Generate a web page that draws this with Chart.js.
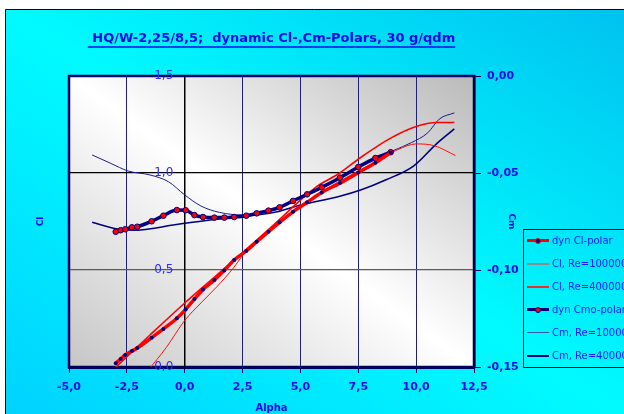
<!DOCTYPE html>
<html>
<head>
<meta charset="utf-8">
<script src="https://cdn.jsdelivr.net/npm/chart.js@4.4.0/dist/chart.umd.min.js"></script>
<style>
  html, body { margin: 0; padding: 0; background: #fff; overflow: hidden; }
  #wrap { position: relative; width: 624px; height: 414px; overflow: hidden; }
  #legend {
    position: absolute; left: 523px; top: 229px; width: 140px; height: 137px;
    border: 1px solid #00003c; font-family: "DejaVu Sans", sans-serif; font-size: 10px; color: #1a1aff;
  }
  .row { position: absolute; left: 0; width: 140px; height: 16px; }
  .row span { position: absolute; }
  .row .txt { left: 28px; top: 0; line-height: 16px; white-space: nowrap; }
</style>
</head>
<body>
<div id="wrap">
  <canvas id="polars" width="624" height="414"></canvas>
  <div id="legend"></div>
</div>
<script>
// Messpunkte der dynamischen Polaren (gleiche Alpha-Werte fuer Cl und Cm)
const alphaDyn = [-2.98, -2.77, -2.57, -2.28, -2.05, -1.43, -0.92, -0.34, 0.04, 0.42, 0.79, 1.28, 1.71,
  2.14, 2.66, 3.11, 3.62, 4.10, 4.68, 5.29, 5.92, 6.71, 7.50, 8.24, 8.90];
const clDyn = [0.019, 0.041, 0.062, 0.082, 0.098, 0.151, 0.196, 0.251, 0.297, 0.350, 0.400, 0.448, 0.498,
  0.552, 0.598, 0.646, 0.697, 0.746, 0.800, 0.849, 0.900, 0.948, 1.002, 1.053, 1.105];
const cmDyn = [-0.0803, -0.0795, -0.0790, -0.0780, -0.0777, -0.0749, -0.0720, -0.0691, -0.0692, -0.0717,
  -0.0727, -0.0730, -0.0730, -0.0727, -0.0720, -0.0708, -0.0694, -0.0677, -0.0644, -0.0610, -0.0574,
  -0.0524, -0.0469, -0.0423, -0.0393];

// Cl-Polaren Re=100000 / Re=400000
const alphaCl100 = [-1.6, -0.8, 0, 0.7, 1.4, 2.1, 2.6, 3.5, 4.5, 5.5, 6.5, 7.5, 8.5, 9.2, 10.0, 10.8, 11.7];
const cl100 = [-0.02, 0.10, 0.24, 0.33, 0.415, 0.51, 0.59, 0.69, 0.785, 0.87, 0.945, 1.01, 1.075, 1.12, 1.15, 1.14, 1.09];
const alphaCl400 = [-3.1, -1.5, 0, 1.25, 2.5, 4.0, 5.0, 5.7, 6.7, 7.6, 8.9, 10.0, 10.9, 11.65];
const cl400 = [-0.015, 0.165, 0.33, 0.46, 0.59, 0.75, 0.86, 0.93, 1.0, 1.08, 1.18, 1.24, 1.26, 1.26];

// Cm-Polaren Re=100000 / Re=400000
const alphaCm100 = [-4.0, -3.2, -2.44, -1.5, -0.7, 0, 0.7, 1.5, 2.5, 3.5, 5.0, 6.5, 8.0, 9.0, 9.8, 10.5, 11.0, 11.65];
const cm100 = [-0.0407, -0.045, -0.049, -0.051, -0.0545, -0.0613, -0.067, -0.0703, -0.0716, -0.0698, -0.0627,
  -0.0537, -0.0437, -0.0385, -0.0343, -0.0293, -0.0222, -0.019];
const alphaCm400 = [-4.0, -2.9, -2.0, -1.4, -0.5, 0, 1.5, 2.5, 4.0, 5.0, 6.7, 7.6, 8.7, 9.9, 10.9, 11.65];
const cm400 = [-0.0754, -0.0789, -0.0795, -0.0786, -0.0768, -0.0759, -0.0737, -0.0725, -0.0700, -0.0665,
  -0.0620, -0.0588, -0.0535, -0.0463, -0.0347, -0.0272];

const pts = (xs, ys) => xs.map((x, i) => ({ x: x, y: ys[i] }));
const comma = (v, d) => v.toFixed(d).replace('.', ',');

const FONT = '"DejaVu Sans", sans-serif';
const BLUE = '#0a0ae8';

// Verlauf quer zur Diagonale oben-links -> unten-rechts
function diagGradient(ctx, x0, y0, x1, y1, stops) {
  const cx = (x0 + x1) / 2, cy = (y0 + y1) / 2;
  const w = x1 - x0, h = y1 - y0;
  const len = Math.hypot(w, h);
  const ux = h / len, uy = -w / len;
  const half = (w * h) / len;
  const g = ctx.createLinearGradient(cx - ux * half, cy - uy * half, cx + ux * half, cy + uy * half);
  stops.forEach(s => g.addColorStop(s[0], s[1]));
  return g;
}

// Hintergrund (Cyan-Rahmen + grauer Plotbereich)
const framePlugin = {
  id: 'frame',
  beforeDraw(chart) {
    const { ctx, chartArea: a, width, height } = chart;
    ctx.save();
    ctx.fillStyle = '#ffffff';
    ctx.fillRect(0, 0, width, height);
    ctx.fillStyle = diagGradient(ctx, 6, 10, width, height,
      [[0, '#00d2ff'], [0.5, '#00fbff'], [1, '#00c2f0']]);
    ctx.fillRect(6, 10, width - 6, height - 10);
    ctx.strokeStyle = '#000';
    ctx.lineWidth = 1;
    ctx.beginPath();
    ctx.moveTo(5.5, height); ctx.lineTo(5.5, 9.5); ctx.lineTo(width, 9.5);
    ctx.stroke();
    ctx.fillStyle = diagGradient(ctx, a.left, a.top, a.right, a.bottom,
      [[0, '#c6c6c6'], [0.5, '#ffffff'], [1, '#bababa']]);
    ctx.fillRect(a.left, a.top, a.right - a.left, a.bottom - a.top);
    ctx.strokeStyle = '#000066';
    ctx.lineWidth = 2.5;
    ctx.strokeRect(a.left, a.top, a.right - a.left, a.bottom - a.top);
    ctx.restore();
  },
  afterDraw(chart) {
    // Titel unterstreichen
    const t = chart.titleBlock;
    if (!t) return;
    const ctx = chart.ctx;
    const f = Chart.helpers.toFont(t.options.font);
    const pad = Chart.helpers.toPadding(t.options.padding);
    ctx.save();
    ctx.font = f.string;
    const w = ctx.measureText(t.options.text).width;
    const cx = (t.left + t.right) / 2;
    const y = t.top + pad.top + f.lineHeight / 2 + 8.5;
    ctx.strokeStyle = BLUE;
    ctx.lineWidth = 1.5;
    ctx.beginPath();
    ctx.moveTo(cx - w / 2, y); ctx.lineTo(cx + w / 2, y);
    ctx.stroke();
    ctx.restore();
  }
};

const chart = new Chart(document.getElementById('polars'), {
  type: 'line',
  data: {
    datasets: [
      { label: 'dyn Cl-polar', data: pts(alphaDyn, clDyn), yAxisID: 'y', order: 0,
        borderColor: '#ff0000', borderWidth: 3.5, pointRadius: 2, pointBackgroundColor: '#000080',
        pointBorderWidth: 0, legendColor: '#ff0000', legendWidth: 3, legendDot: ['#000080', '#ff0000'] },
      { label: 'Cl, Re=100000', data: pts(alphaCl100, cl100), yAxisID: 'y', order: 2,
        borderColor: '#ff1010', borderWidth: 1, pointRadius: 0, legendColor: '#8c8c8c', legendWidth: 2 },
      { label: 'Cl, Re=400000', data: pts(alphaCl400, cl400), yAxisID: 'y', order: 2,
        borderColor: '#ff0000', borderWidth: 1.6, pointRadius: 0, legendColor: '#e83030', legendWidth: 2 },
      { label: 'dyn Cmo-polar', data: pts(alphaDyn, cmDyn), yAxisID: 'y2', order: 1,
        borderColor: '#000080', borderWidth: 3.5, pointRadius: 2.8, pointBackgroundColor: '#ff0000',
        pointBorderColor: '#000080', pointBorderWidth: 1, legendColor: '#000080', legendWidth: 3,
        legendDot: ['#ff0000', '#000080'] },
      { label: 'Cm, Re=100000', data: pts(alphaCm100, cm100), yAxisID: 'y2', order: 2,
        borderColor: '#1c1c90', borderWidth: 1, pointRadius: 0, legendColor: '#3a5aa8', legendWidth: 1.5 },
      { label: 'Cm, Re=400000', data: pts(alphaCm400, cm400), yAxisID: 'y2', order: 2,
        borderColor: '#000080', borderWidth: 1.6, pointRadius: 0, legendColor: '#000070', legendWidth: 2 }
    ]
  },
  options: {
    responsive: false,
    animation: false,
    events: [],
    cubicInterpolationMode: 'monotone',
    layout: { padding: 0 },
    plugins: {
      legend: { display: false },
      tooltip: { enabled: false },
      title: {
        display: true,
        fullSize: false,
        text: ' HQ/W-2,25/8,5;  dynamic Cl-,Cm-Polars, 30 g/qdm',
        color: BLUE,
        font: { family: FONT, size: 13, weight: 'bold', lineHeight: 1.2 },
        padding: { top: 30.8, bottom: 29.6 }
      }
    },
    scales: {
      x: {
        type: 'linear', min: -5, max: 12.5,
        afterFit: s => { s.height = 47; },
        ticks: { stepSize: 2.5, padding: 8, color: BLUE, font: { family: FONT, size: 11, weight: 'bold' },
          callback: v => comma(v, 1) },
        grid: { color: c => c.tick && c.tick.value === 0 ? '#000000' : '#20207a', lineWidth: 1,
          tickLength: 6, tickColor: '#000060' },
        border: { color: '#00005a', width: 3 },
        title: { display: true, text: 'Alpha', color: BLUE, font: { family: FONT, size: 10, weight: 'bold' },
          padding: { top: 0, bottom: 0 } }
      },
      y: {
        position: 'left', min: 0, max: 1.5,
        afterFit: s => { s.width = 69; },
        ticks: { stepSize: 0.5, display: false },
        grid: { drawTicks: false, lineWidth: 1.2,
          color: c => c.tick && c.tick.value === 1 ? '#000000' : (c.tick && c.tick.value === 0.5 ? '#5a5a5a' : 'rgba(0,0,0,0)') },
        border: { color: '#000066', width: 2 },
        title: { display: true, text: 'Cl', color: BLUE, font: { family: FONT, size: 9, weight: 'bold' },
          padding: { top: 35.6, bottom: 0 } }
      },
      yl: {
        position: { x: 0 }, min: 0, max: 1.5,
        ticks: { stepSize: 0.5, color: '#2a2aff', font: { family: FONT, size: 12 },
          callback: v => comma(v, 1) + '   ' },
        grid: { display: true, drawOnChartArea: false, drawTicks: false },
        border: { color: '#000000', width: 1.5 }
      },
      y2: {
        position: 'right', min: -0.15, max: 0,
        afterFit: s => { s.width = 150; },
        ticks: { stepSize: 0.05, padding: 6, color: BLUE, font: { family: FONT, size: 11, weight: 'bold' },
          callback: v => comma(v, 2) },
        grid: { drawOnChartArea: false, tickLength: 7, tickColor: '#000050' },
        border: { color: '#000040', width: 2.5 },
        title: { display: true, text: 'Cm', color: BLUE, font: { family: FONT, size: 9, weight: 'bold' },
          padding: { top: 107, bottom: 0 } }
      }
    }
  },
  plugins: [framePlugin]
});

// Legende (HTML, aus den Datensaetzen aufgebaut)
const legendEl = document.getElementById('legend');
chart.data.datasets.forEach((ds, i) => {
  const row = document.createElement('div');
  row.className = 'row';
  row.style.top = (10.7 + i * 23 - 8) + 'px';
  const line = document.createElement('span');
  line.style.left = '3px';
  line.style.width = '22px';
  line.style.height = ds.legendWidth + 'px';
  line.style.top = (8 - ds.legendWidth / 2) + 'px';
  line.style.background = ds.legendColor;
  row.appendChild(line);
  if (ds.legendDot) {
    const dot = document.createElement('span');
    dot.style.left = '11px';
    dot.style.top = '5px';
    dot.style.width = '4px';
    dot.style.height = '4px';
    dot.style.borderRadius = '50%';
    dot.style.background = ds.legendDot[0];
    dot.style.border = '1px solid ' + ds.legendDot[1];
    row.appendChild(dot);
  }
  const txt = document.createElement('span');
  txt.className = 'txt';
  txt.textContent = ds.label;
  row.appendChild(txt);
  legendEl.appendChild(row);
});
</script>
</body>
</html>
